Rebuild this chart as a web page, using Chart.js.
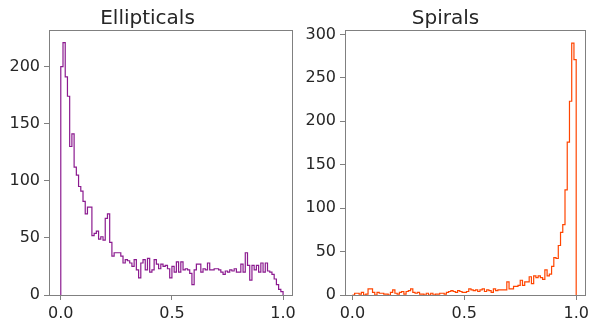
<!DOCTYPE html>
<html>
<head>
<meta charset="utf-8">
<script src="https://cdn.jsdelivr.net/npm/chart.js@4.4.0/dist/chart.umd.min.js"></script>
<style>
  html, body { margin: 0; padding: 0; background: #fff; }
  body { width: 593px; height: 322px; position: relative; overflow: hidden; }
  canvas { position: absolute; top: 0; }
  #ellCanvas { left: 0; }
  #spiCanvas { left: 300px; }
</style>
</head>
<body>
<canvas id="ellCanvas" width="300" height="322"></canvas>
<canvas id="spiCanvas" width="293" height="322"></canvas>
<script>
// Histogram counts: 100 bins of width 0.01 from 0.0 to 1.0
const binWidth = 0.01;

const ellipticalCounts = [
    200, 221, 191, 174, 130, 141, 112, 105, 95, 91,
    82, 71, 77, 77, 52, 54, 56, 49, 51, 48,
    67, 71, 46, 34, 37, 37, 37, 34, 28, 31,
    30, 28, 25, 31, 22, 15, 28, 31, 22, 32,
    20, 22, 31, 27, 23, 27, 25, 26, 23, 15,
    25, 20, 29, 20, 29, 22, 23, 22, 19, 9,
    22, 27, 27, 20, 23, 22, 28, 22, 22, 23,
    23, 22, 20, 18, 21, 20, 22, 21, 23, 20,
    20, 27, 20, 37, 26, 13, 26, 22, 26, 20,
    28, 20, 28, 21, 20, 18, 14, 9, 5, 3
];

const spiralCounts = [
    0, 2, 2, 1, 3, 0, 1, 7, 7, 3,
    0, 3, 2, 2, 1, 1, 0, 3, 6, 2,
    1, 3, 4, 1, 4, 5, 7, 3, 2, 3,
    1, 1, 0, 2, 0, 2, 0, 1, 1, 2,
    2, 1, 3, 4, 5, 4, 3, 5, 4, 3,
    3, 4, 7, 6, 5, 6, 4, 6, 7, 4,
    6, 5, 3, 7, 5, 6, 6, 6, 6, 15,
    7, 7, 10, 10, 11, 17, 11, 15, 15, 21,
    13, 22, 20, 22, 20, 18, 29, 22, 24, 33,
    43, 42, 57, 72, 81, 121, 176, 223, 290, 271
];

const xTickValues = [0, 0.5, 1.0];
const ellipticalYTicks = [0, 50, 100, 150, 200];
const spiralYTicks = [0, 50, 100, 150, 200, 250, 300];

const tickFont = { family: 'DejaVu Sans', size: 16 };
const textColor = '#262626';
const frameColor = '#808080';

// Full box round the plot area, drawn over the data like matplotlib spines
const framePlugin = {
    id: 'frame',
    afterDatasetsDraw(chart) {
        const { ctx, chartArea: a } = chart;
        ctx.save();
        ctx.strokeStyle = frameColor;
        ctx.lineWidth = 1;
        ctx.strokeRect(Math.round(a.left) + 0.5, Math.round(a.top) + 0.5,
            Math.round(a.right - a.left) - 1, Math.round(a.bottom - a.top));
        ctx.restore();
    }
};

// Left bin edges with counts, plus closing points at zero
function stepPoints(counts) {
    const pts = [{ x: 0, y: 0 }];
    counts.forEach((c, i) => pts.push({ x: i * binWidth, y: c }));
    pts.push({ x: counts.length * binWidth, y: 0 });
    return pts;
}

function makeHistogram(canvasId, title, counts, color, opts) {
    const ctx = document.getElementById(canvasId).getContext('2d');
    return new Chart(ctx, {
        type: 'line',
        data: {
            datasets: [{
                data: stepPoints(counts),
                borderColor: color,
                borderWidth: 1.2,
                stepped: 'before',
                pointRadius: 0,
                fill: false,
                tension: 0
            }]
        },
        options: {
            responsive: false,
            animation: false,
            layout: { padding: { left: 0, right: opts.padRight, top: 0, bottom: 0 } },
            plugins: {
                legend: { display: false },
                tooltip: { enabled: false },
                title: {
                    display: true,
                    text: title,
                    color: textColor,
                    font: { family: 'DejaVu Sans', size: 20, weight: 'normal', lineHeight: 1.1 },
                    padding: { top: 8, bottom: 0 }
                }
            },
            scales: {
                x: {
                    type: 'linear',
                    min: opts.xMin,
                    max: opts.xMax,
                    afterBuildTicks: scale => { scale.ticks = xTickValues.map(v => ({ value: v })); },
                    afterFit: scale => { scale.height = 27; },
                    grid: { drawOnChartArea: false, drawTicks: true, tickLength: 5, color: frameColor },
                    border: { display: false },
                    ticks: {
                        font: tickFont,
                        color: textColor,
                        padding: 4,
                        maxRotation: 0,
                        autoSkip: false,
                        callback: v => v.toFixed(1)
                    }
                },
                y: {
                    min: 0,
                    max: opts.yMax,
                    afterBuildTicks: scale => { scale.ticks = opts.yTicks.map(v => ({ value: v })); },
                    afterFit: scale => { scale.width = opts.yAxisWidth; },
                    grid: { drawOnChartArea: false, drawTicks: true, tickLength: 5, color: frameColor },
                    border: { display: false },
                    ticks: {
                        font: tickFont,
                        color: textColor,
                        padding: 4,
                        autoSkip: false,
                        callback: v => String(v)
                    }
                }
            }
        },
        plugins: [framePlugin]
    });
}

makeHistogram('ellCanvas', 'Ellipticals', ellipticalCounts, '#8b1a8f', {
    xMin: -0.053, xMax: 1.046, yMax: 232, yTicks: ellipticalYTicks, yAxisWidth: 49, padRight: 5
});

makeHistogram('spiCanvas', 'Spirals', spiralCounts, '#ff4500', {
    xMin: -0.033, xMax: 1.046, yMax: 305, yTicks: spiralYTicks, yAxisWidth: 45, padRight: 2
});
</script>
</body>
</html>
